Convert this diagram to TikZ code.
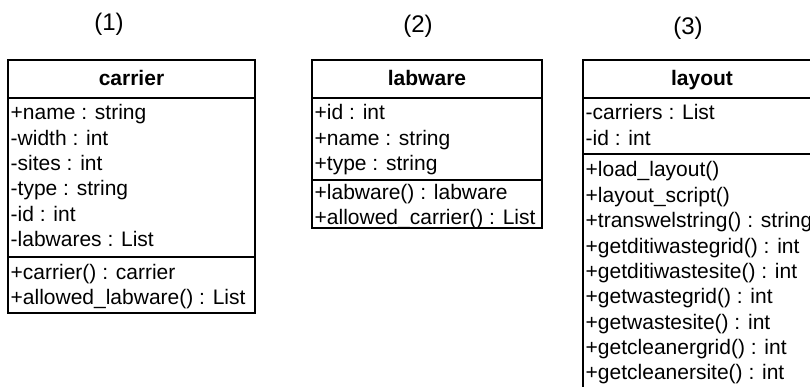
\documentclass[tikz,border=0pt]{standalone}
\usepackage{fontspec}
\setmainfont{Liberation Sans}
\begin{document}
\begin{tikzpicture}[x=1pt,y=-1pt,
  umlbox/.style={draw=black,line width=1.6pt,fill=white},
  sepline/.style={draw=black,line width=1.6pt},
  caption/.style={inner sep=0pt,anchor=base,font=\fontsize{24}{28}\selectfont},
  classname/.style={inner sep=0pt,anchor=base,font=\fontsize{21}{25}\selectfont\bfseries},
  member/.style={inner sep=0pt,anchor=base west,font=\fontsize{21}{25}\selectfont}]
\useasboundingbox (0,0) rectangle (810,387);
\clip (0,0) rectangle (810,387);

% captions
\node[caption] (cap1) at (109,31) {(1)};
\node[caption] (cap2) at (418,33) {(2)};
\node[caption] (cap3) at (688,35) {(3)};

% class: carrier
\draw[umlbox] (8,60) rectangle (255,313);
\draw[sepline] (8,98) -- (255,98);
\draw[sepline] (8,257) -- (255,257);
\node[classname] (carrierT) at (131.5,86) {carrier};
\node[member] (c1) at (10.5,120) {+name : string};
\node[member] (c2) at (10.5,145.3) {-width : int};
\node[member] (c3) at (10.5,170.6) {-sites : int};
\node[member] (c4) at (10.5,196) {-type : string};
\node[member] (c5) at (10.5,221.3) {-id : int};
\node[member] (c6) at (10.5,246.6) {-labwares : List};
\node[member] (c7) at (10.5,279) {+carrier() : carrier};
\node[member] (c8) at (10.5,304.4) {+allowed\_labware() : List};

% class: labware
\draw[umlbox] (312,60) rectangle (542,228);
\draw[sepline] (312,98) -- (542,98);
\draw[sepline] (312,180) -- (542,180);
\node[classname] (labwareT) at (427,86) {labware};
\node[member] (l1) at (314.5,120) {+id : int};
\node[member] (l2) at (314.5,145.3) {+name : string};
\node[member] (l3) at (314.5,170.6) {+type : string};
\node[member] (l4) at (314.5,200) {+labware() : labware};
\node[member] (l5) at (314.5,224.5) {+allowed\_carrier() : List};

% class: layout (continues past the page edge)
\draw[umlbox] (583,60) rectangle (821,420);
\draw[sepline] (583,98) -- (821,98);
\draw[sepline] (583,154) -- (821,154);
\node[classname] (layoutT) at (702,86) {layout};
\node[member] (y1) at (585.5,120) {-carriers : List};
\node[member] (y2) at (585.5,145.3) {-id : int};
\node[member] (y3) at (585.5,177) {+load\_layout()};
\node[member] (y4) at (585.5,202.3) {+layout\_script()};
\node[member] (y5) at (585.5,227.6) {+transwelstring() : string};
\node[member] (y6) at (585.5,253) {+getditiwastegrid() : int};
\node[member] (y7) at (585.5,278.3) {+getditiwastesite() : int};
\node[member] (y8) at (585.5,303.6) {+getwastegrid() : int};
\node[member] (y9) at (585.5,329) {+getwastesite() : int};
\node[member] (y10) at (585.5,354.3) {+getcleanergrid() : int};
\node[member] (y11) at (585.5,379.6) {+getcleanersite() : int};
\end{tikzpicture}
\end{document}
